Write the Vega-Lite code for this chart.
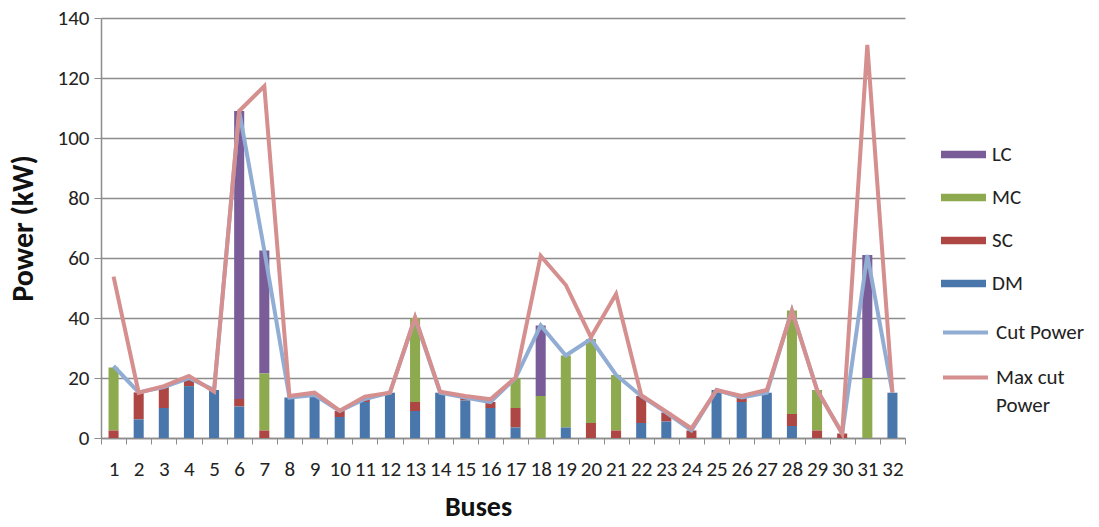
{
  "$schema": "https://vega.github.io/schema/vega-lite/v6.json",
  "autosize": {"type": "none"},
  "padding": {"left": 101, "top": 18, "right": 194, "bottom": 89},
  "width": 804,
  "height": 420,
  "background": "white",
  "config": {
    "view": {"stroke": null},
    "font": "Carlito, Liberation Sans, sans-serif",
    "axis": {"labelFont": "Carlito, Liberation Sans, sans-serif", "titleFont": "Carlito, Liberation Sans, sans-serif", "labelColor": "#222", "titleColor": "#111"},
    "legend": {"labelFont": "Carlito, Liberation Sans, sans-serif"}
  },
  "data": {
    "values": [
      {"bus": 1, "DM": 0, "SC": 2.5, "MC": 21, "LC": 0, "Cut": 24, "Max": 53.8},
      {"bus": 2, "DM": 6.2, "SC": 9, "MC": 0, "LC": 0, "Cut": 15.2, "Max": 15.1},
      {"bus": 3, "DM": 10, "SC": 7, "MC": 0, "LC": 0, "Cut": 17, "Max": 17.3},
      {"bus": 4, "DM": 17.3, "SC": 2.7, "MC": 0, "LC": 0, "Cut": 20, "Max": 20.7},
      {"bus": 5, "DM": 16, "SC": 0, "MC": 0, "LC": 0, "Cut": 16, "Max": 15.5},
      {"bus": 6, "DM": 10.5, "SC": 2.5, "MC": 0, "LC": 96, "Cut": 109, "Max": 109},
      {"bus": 7, "DM": 0, "SC": 2.5, "MC": 19, "LC": 41, "Cut": 62.5, "Max": 117.3},
      {"bus": 8, "DM": 13.5, "SC": 0, "MC": 0, "LC": 0, "Cut": 13.5, "Max": 14},
      {"bus": 9, "DM": 14.3, "SC": 0, "MC": 0, "LC": 0, "Cut": 14.3, "Max": 15.1},
      {"bus": 10, "DM": 7, "SC": 2, "MC": 0, "LC": 0, "Cut": 9, "Max": 9.1},
      {"bus": 11, "DM": 12, "SC": 1, "MC": 0, "LC": 0, "Cut": 13, "Max": 13.8},
      {"bus": 12, "DM": 15.1, "SC": 0, "MC": 0, "LC": 0, "Cut": 15.1, "Max": 15.1},
      {"bus": 13, "DM": 9, "SC": 3, "MC": 28, "LC": 0, "Cut": 40, "Max": 40.2},
      {"bus": 14, "DM": 15.1, "SC": 0, "MC": 0, "LC": 0, "Cut": 15.1, "Max": 15.4},
      {"bus": 15, "DM": 12.5, "SC": 1, "MC": 0, "LC": 0, "Cut": 13.5, "Max": 14},
      {"bus": 16, "DM": 10, "SC": 2, "MC": 0, "LC": 0, "Cut": 12, "Max": 12.9},
      {"bus": 17, "DM": 3.5, "SC": 6.5, "MC": 10, "LC": 0, "Cut": 20, "Max": 20.1},
      {"bus": 18, "DM": 0, "SC": 0, "MC": 14, "LC": 23.5, "Cut": 37.5, "Max": 60.7},
      {"bus": 19, "DM": 3.5, "SC": 0, "MC": 24, "LC": 0, "Cut": 27.5, "Max": 51},
      {"bus": 20, "DM": 0, "SC": 5, "MC": 28, "LC": 0, "Cut": 33, "Max": 33.6},
      {"bus": 21, "DM": 0, "SC": 2.5, "MC": 18.5, "LC": 0, "Cut": 21, "Max": 48},
      {"bus": 22, "DM": 5, "SC": 9, "MC": 0, "LC": 0, "Cut": 14, "Max": 14.3},
      {"bus": 23, "DM": 5.5, "SC": 3, "MC": 0, "LC": 0, "Cut": 8.5, "Max": 8.8},
      {"bus": 24, "DM": 0, "SC": 2.5, "MC": 0, "LC": 0, "Cut": 2.5, "Max": 3.2},
      {"bus": 25, "DM": 16, "SC": 0, "MC": 0, "LC": 0, "Cut": 16, "Max": 16},
      {"bus": 26, "DM": 12, "SC": 1.5, "MC": 0, "LC": 0, "Cut": 13.5, "Max": 14},
      {"bus": 27, "DM": 15.1, "SC": 0, "MC": 0, "LC": 0, "Cut": 15.1, "Max": 16},
      {"bus": 28, "DM": 4, "SC": 4, "MC": 34.5, "LC": 0, "Cut": 42.5, "Max": 42.4},
      {"bus": 29, "DM": 0, "SC": 2.5, "MC": 13.5, "LC": 0, "Cut": 16, "Max": 16},
      {"bus": 30, "DM": 0, "SC": 1.5, "MC": 0, "LC": 0, "Cut": 1.5, "Max": 1.5},
      {"bus": 31, "DM": 0, "SC": 0, "MC": 20, "LC": 41, "Cut": 61, "Max": 131},
      {"bus": 32, "DM": 15.1, "SC": 0, "MC": 0, "LC": 0, "Cut": 15.1, "Max": 15.1}
    ]
  },
  "encoding": {
    "x": {
      "field": "bus", "type": "ordinal",
      "scale": {"paddingInner": 0, "paddingOuter": 0},
      "axis": {
        "title": "Buses", "titleFontSize": 28, "titleFontWeight": "bold", "titlePadding": 14, "titleX": 377,
        "labelAngle": 0, "labelFontSize": 21, "labelPadding": 14, "labelOverlap": false,
        "tickBand": "extent", "tickSize": 6, "tickColor": "#8c8c8c", "domainColor": "#8c8c8c", "domainWidth": 1.5, "grid": false
      }
    }
  },
  "layer": [
    {
      "transform": [
        {"fold": ["LC", "MC", "SC", "DM"], "as": ["part", "kW"]},
        {"calculate": "indexof(['DM','SC','MC','LC'], datum.part)", "as": "stackorder"}
      ],
      "mark": {"type": "bar", "width": {"band": 0.4}},
      "encoding": {
        "y": {
          "field": "kW", "type": "quantitative", "stack": "zero",
          "scale": {"domain": [0, 140], "nice": false},
          "axis": {
            "title": "Power (kW)", "titleFontSize": 30, "titleFontWeight": "bold", "titlePadding": 19,
            "values": [0, 20, 40, 60, 80, 100, 120, 140], "labelFontSize": 21, "labelPadding": 5,
            "tickSize": 7, "tickColor": "#8c8c8c", "domainColor": "#8c8c8c", "domainWidth": 1.5,
            "gridColor": "#8c8c8c", "gridWidth": 1.3
          }
        },
        "color": {
          "field": "part", "type": "nominal",
          "scale": {"domain": ["LC", "MC", "SC", "DM"], "range": ["#7A5C98", "#8DAA4E", "#AE4744", "#4A77AB"]},
          "legend": {
            "title": null, "orient": "none", "legendX": 840, "legendY": 114,
            "symbolType": "M-1,-0.17H1V0.17H-1Z", "symbolSize": 2025, "symbolStrokeWidth": 0,
            "labelFontSize": 21, "labelColor": "#222", "rowPadding": 10, "labelOffset": 6
          }
        },
        "order": {"field": "stackorder", "type": "quantitative"}
      }
    },
    {
      "mark": {"type": "line", "strokeWidth": 4, "strokeJoin": "miter"},
      "encoding": {
        "y": {"field": "Cut", "type": "quantitative"},
        "stroke": {
          "datum": "Cut Power", "type": "nominal",
          "scale": {"domain": ["Cut Power", "Max cut Power"], "range": ["#92ADD4", "#D58F8E"]},
          "legend": {
            "title": null, "orient": "none", "legendX": 840, "legendY": 290,
            "symbolType": "stroke", "symbolSize": 2025, "symbolStrokeWidth": 4,
            "labelFontSize": 21, "labelColor": "#222", "rowPadding": 10, "labelOffset": 6,
            "labelExpr": "datum.label == 'Max cut Power' ? ['Max cut', 'Power'] : datum.label",
            "encode": {"labels": {"update": {"lineHeight": {"value": 28}}}}
          }
        }
      }
    },
    {
      "mark": {"type": "line", "strokeWidth": 4, "strokeJoin": "miter"},
      "encoding": {
        "y": {"field": "Max", "type": "quantitative"},
        "stroke": {"datum": "Max cut Power", "type": "nominal"}
      }
    }
  ]
}
